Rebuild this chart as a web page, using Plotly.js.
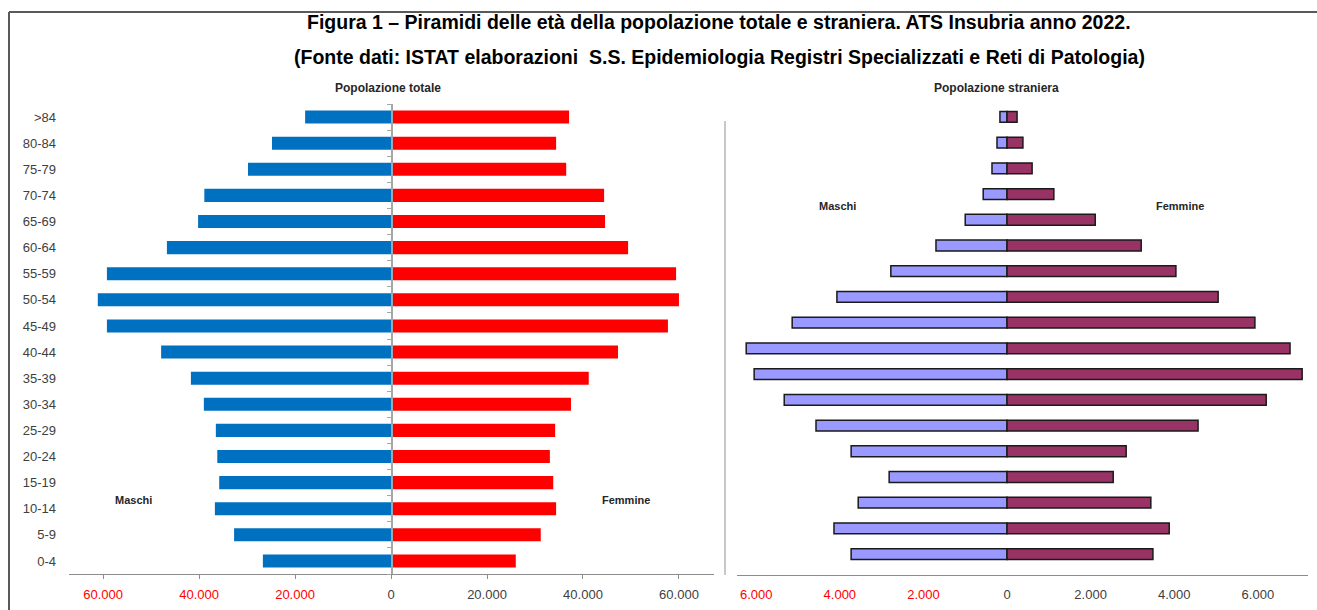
<!DOCTYPE html>
<html>
<head>
<meta charset="utf-8">
<script src="https://cdn.plot.ly/plotly-3.0.1.min.js"></script>
<style>html,body{margin:0;padding:0;background:#fff;}#chart{width:1317px;height:610px;}</style>
</head>
<body>
<div id="chart"></div>
<script>
// Age classes, bottom to top
const ageClasses = ['0-4','5-9','10-14','15-19','20-24','25-29','30-34','35-39','40-44','45-49','50-54','55-59','60-64','65-69','70-74','75-79','80-84','>84'];

// Popolazione totale
const totMaschi  = [26700,32700,36700,35800,36200,36500,39000,41700,47900,59200,61100,59200,46700,40200,38900,29800,24800,17900];
const totFemmine = [26000,31200,34400,33800,33100,34200,37500,41200,47300,57700,60000,59400,49400,44600,44400,36500,34400,37100];

// Popolazione straniera
const strMaschi  = [3730,4140,3560,2820,3730,4570,5330,6050,6240,5140,4070,2780,1700,1000,570,360,240,170];
const strFemmine = [3490,3880,3440,2540,2850,4570,6200,7060,6770,5930,5050,4040,3210,2110,1120,600,380,240];

// Axis tick values / labels
const totTickVals = [-60000,-40000,-20000,0,20000,40000,60000];
const strTickVals = [-6000,-4000,-2000,0,2000,4000,6000];

const fmt = v => Math.abs(v).toLocaleString('de-DE');
const tickText = vals => vals.map(v => v < 0 ? '<span style="color:#FF0000">' + fmt(v) + '</span>' : fmt(v));
const idx = ageClasses.map((_, i) => i);
const boundaries = ageClasses.concat(['']).map((_, i) => i - 0.5);

const W = 1317, H = 610;
const px = x => x / W;
const py = y => 1 - y / H;

const FONT = 'Liberation Sans, Arial, sans-serif';
const TITLEFONT = '"Liberation Sans", Arial, sans-serif';

const traces = [
  {type:'bar', orientation:'h', y: idx, x: totMaschi.map(v => -v), xaxis:'x', yaxis:'y',
   marker:{color:'#0070C0'}, width:0.5, hoverinfo:'skip', showlegend:false},
  {type:'bar', orientation:'h', y: idx, x: totFemmine, xaxis:'x', yaxis:'y3',
   marker:{color:'#FF0000'}, width:0.5, hoverinfo:'skip', showlegend:false},
  {type:'bar', orientation:'h', y: idx, x: strMaschi.map(v => -v), xaxis:'x2', yaxis:'y2',
   marker:{color:'#9999FF', line:{color:'#1a1a1a', width:1.5}}, width:0.42, hoverinfo:'skip', showlegend:false},
  {type:'bar', orientation:'h', y: idx, x: strFemmine, xaxis:'x2', yaxis:'y2',
   marker:{color:'#993366', line:{color:'#1a1a1a', width:1.5}}, width:0.42, hoverinfo:'skip', showlegend:false}
];

const layout = {
  width: W, height: H,
  margin:{l:0, r:0, t:0, b:0},
  paper_bgcolor:'#ffffff', plot_bgcolor:'rgba(0,0,0,0)',
  barmode:'overlay',
  font:{family: FONT, size:12, color:'#404040'},
  xaxis:{domain:[px(69), px(714)], range:[-67100, 67300], anchor:'y',
    tickmode:'array', tickvals: totTickVals, ticktext: tickText(totTickVals),
    showline:true, linecolor:'#8c8c8c', linewidth:1.2, ticks:'outside', ticklen:4, tickcolor:'#8c8c8c',
    showgrid:false, zeroline:false, fixedrange:true, tickfont:{size:13, color:'#404040'}, ticklabelstandoff:4},
  yaxis:{domain:[py(574), py(104)], range:[-0.5, 17.5], anchor:'x',
    tickmode:'array', tickvals: idx, ticktext: ageClasses, ticks:'', showline:false,
    showgrid:false, zeroline:false, fixedrange:true, ticklabelstandoff:12,
    tickfont:{size:13, color:'#404040'}},
  yaxis3:{overlaying:'y', anchor:'free', position: px(391), side:'left',
    range:[-0.5, 17.5], tickmode:'array', tickvals: boundaries, showticklabels:false,
    showline:true, linecolor:'#a6a6a6', linewidth:1.5, ticks:'outside', ticklen:4, tickcolor:'#a6a6a6',
    showgrid:false, zeroline:false, fixedrange:true},
  xaxis2:{domain:[px(737), px(1308)], range:[-6460, 7200], anchor:'y2',
    tickmode:'array', tickvals: strTickVals, ticktext: tickText(strTickVals),
    showline:true, linecolor:'#8c8c8c', linewidth:1.2, ticks:'',
    showgrid:false, zeroline:false, fixedrange:true, tickfont:{size:13, color:'#404040'}, ticklabelstandoff:7},
  yaxis2:{domain:[py(575), py(104)], range:[-0.81, 17.5], anchor:'x2',
    showticklabels:false, ticks:'', showline:false, showgrid:false, zeroline:false, fixedrange:true},
  shapes:[
    {type:'line', xref:'paper', yref:'paper', x0:px(9), x1:px(1317), y0:py(12), y1:py(12), line:{color:'#595959', width:2}},
    {type:'line', xref:'paper', yref:'paper', x0:px(9), x1:px(9), y0:py(12), y1:py(610), line:{color:'#595959', width:2}},
    {type:'line', xref:'paper', yref:'paper', x0:px(725), x1:px(725), y0:py(121), y1:py(575), line:{color:'#c8c8c8', width:2}}
  ],
  annotations:[
    {text:'<b>Figura 1 – Piramidi delle età della popolazione totale e straniera. ATS Insubria anno 2022.</b>',
     xref:'paper', yref:'paper', x:px(719), y:py(22), xanchor:'center', yanchor:'middle', showarrow:false,
     font:{family:TITLEFONT, size:19.5, color:'#000000'}},
    {text:'<b>(Fonte dati: ISTAT elaborazioni  S.S. Epidemiologia Registri Specializzati e Reti di Patologia)</b>',
     xref:'paper', yref:'paper', x:px(719), y:py(57), xanchor:'center', yanchor:'middle', showarrow:false,
     font:{family:TITLEFONT, size:19.5, color:'#000000'}},
    {text:'<b>Popolazione totale</b>', xref:'paper', yref:'paper', x:px(388), y:py(88), xanchor:'center', yanchor:'middle',
     showarrow:false, font:{family:TITLEFONT, size:12, color:'#262626'}},
    {text:'<b>Popolazione straniera</b>', xref:'paper', yref:'paper', x:px(997), y:py(88), xanchor:'center', yanchor:'middle',
     showarrow:false, font:{family:TITLEFONT, size:12, color:'#262626'}},
    {text:'<b>Maschi</b>', xref:'paper', yref:'paper', x:px(133), y:py(500), xanchor:'center', yanchor:'middle',
     showarrow:false, font:{family:FONT, size:11, color:'#262626'}},
    {text:'<b>Femmine</b>', xref:'paper', yref:'paper', x:px(626), y:py(500), xanchor:'center', yanchor:'middle',
     showarrow:false, font:{family:FONT, size:11, color:'#262626'}},
    {text:'<b>Maschi</b>', xref:'paper', yref:'paper', x:px(838), y:py(206), xanchor:'center', yanchor:'middle',
     showarrow:false, font:{family:FONT, size:11, color:'#262626'}},
    {text:'<b>Femmine</b>', xref:'paper', yref:'paper', x:px(1180), y:py(206), xanchor:'center', yanchor:'middle',
     showarrow:false, font:{family:FONT, size:11, color:'#262626'}}
  ]
};

Plotly.newPlot('chart', traces, layout, {displayModeBar:false, staticPlot:true});
</script>
</body>
</html>
